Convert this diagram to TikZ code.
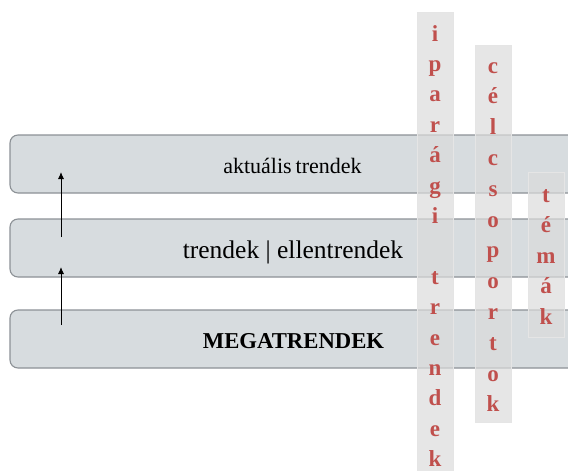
\documentclass[tikz,border=0pt]{standalone}
\usepackage{fontspec}
\setmainfont{Liberation Serif}
\usetikzlibrary{arrows.meta}
\definecolor{barfill}{RGB}{215,220,223}
\definecolor{barline}{RGB}{140,145,150}
\definecolor{letred}{RGB}{192,80,77}
\tikzset{
  bar/.style={draw=barline, line width=1.1pt, fill=barfill, rounded corners=8pt, minimum width=590pt, minimum height=58pt, inner sep=0pt},
  colbox/.style={draw=black!10, line width=0.6pt, fill=black!14, fill opacity=0.7, inner sep=0pt, minimum width=36pt},
  letter/.style={anchor=base, text=letred, font=\fontsize{23}{23}\selectfont\bfseries, inner sep=0pt},
  bartext/.style={anchor=base, text=black, inner sep=0pt},
  uparrow/.style={draw=black, line width=0.9pt, -{Latex[length=7pt,width=6pt]}}
}
\begin{document}
\begin{tikzpicture}[x=1pt,y=-1pt]
\useasboundingbox (0,0) rectangle (568,471);
\clip (0,0) rectangle (568,471);
% bars
\node[bar] (bar1) at (305,164) {};
\node[bar] (bar2) at (305,248) {};
\node[bar] (bar3) at (305,339) {};
% columns
\node[colbox, minimum height=470pt] (col1) at (435,247) {};
\node[colbox, minimum height=377pt] (col2) at (493,233.5) {};
\node[colbox, minimum height=165pt] (col3) at (546,254.5) {};
% letters
\foreach \l [count=\i from 0] in {i,p,a,r,á,g,i,{},t,r,e,n,d,e,k}
  \node[letter] (la\i) at (435,{41+\i*30.4}) {\l};
\foreach \l [count=\i from 0] in {c,é,l,c,s,o,p,o,r,t,o,k}
  \node[letter] (lb\i) at (493,{73+\i*30.8}) {\l};
\foreach \l [count=\i from 0] in {t,é,m,á,k}
  \node[letter] (lc\i) at (546,{202+\i*30.5}) {\l};
% bar texts
\node[bartext, font=\fontsize{22}{22}\selectfont] (txt1) at (292.5,173) {aktuális\hspace{-1.5pt} trendek};
\node[bartext, font=\fontsize{25.5}{25.5}\selectfont] (txt2) at (293,258) {trendek | ellentrendek};
\node[bartext, font=\fontsize{22.7}{22.7}\selectfont\bfseries] (txt3) at (293.5,348) {MEGATRENDEK};
% arrows
\coordinate (a1s) at (61,237);
\coordinate (a1e) at (61,172);
\coordinate (a2s) at (61,325);
\coordinate (a2e) at (61,267);
\draw[uparrow] (a1s) -- (a1e);
\draw[uparrow] (a2s) -- (a2e);
\end{tikzpicture}
\end{document}
